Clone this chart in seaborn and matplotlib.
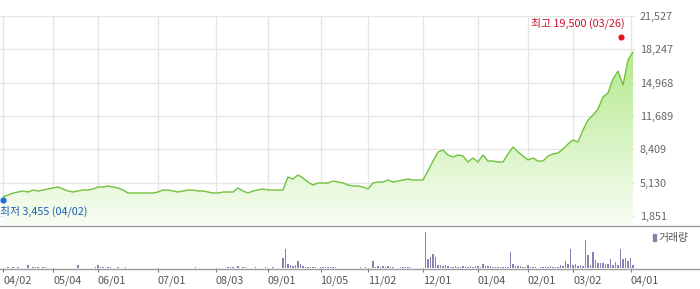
import numpy as np
import matplotlib
matplotlib.use("Agg")
import matplotlib.pyplot as plt
import seaborn as sns
import pandas as pd
from matplotlib.colors import LinearSegmentedColormap
from matplotlib.lines import Line2D
from matplotlib.patches import Rectangle

# ---- data (price sampled every 2 trading days, volume daily) ----
price = [3720, 3917, 4114, 4212, 4310, 4212, 4409, 4310, 4409, 4507,
         4606, 4704, 4507, 4310, 4212, 4310, 4409, 4409, 4507, 4704,
         4704, 4802, 4704, 4606, 4409, 4114, 4114, 4114, 4114, 4114,
         4114, 4212, 4409, 4409, 4310, 4212, 4310, 4409, 4409, 4310,
         4310, 4212, 4114, 4114, 4212, 4212, 4212, 4606, 4310, 4114,
         4310, 4409, 4507, 4409, 4409, 4409, 4409, 5688, 5491, 5885,
         5589, 5196, 4901, 5098, 5098, 5098, 5294, 5196, 5098, 4901,
         4802, 4802, 4704, 4507, 5098, 5196, 5196, 5393, 5196, 5294,
         5393, 5491, 5393, 5393, 5393, 6278, 7262, 8147, 8344, 7852,
         7655, 7852, 7754, 7164, 7557, 7164, 7852, 7262, 7262, 7164,
         7164, 7951, 8639, 8147, 7754, 7360, 7557, 7262, 7262, 7754,
         7951, 8049, 8442, 8934, 9328, 9131, 10312, 11295, 11787, 12378,
         13558, 13952, 15329, 16116, 14739, 17198, 17986]

volume = [0, 0, 1, 0, 1, 0, 1, 0, 0, 0,
          3, 0, 1, 1, 1, 0, 1, 1, 0, 0,
          0, 0, 0, 0, 0, 0, 0, 0, 0, 0,
          3, 0, 0, 0, 0, 0, 0, 1, 3, 1,
          1, 0, 1, 1, 0, 0, 1, 0, 0, 1,
          0, 0, 0, 0, 0, 0, 0, 0, 0, 0,
          0, 0, 0, 0, 0, 0, 0, 0, 0, 0,
          0, 0, 0, 0, 0, 0, 0, 1, 0, 0,
          0, 0, 0, 0, 0, 0, 0, 0, 0, 0,
          1, 1, 1, 0, 2, 0, 1, 1, 0, 0,
          0, 1, 0, 0, 0, 1, 0, 0, 1, 0,
          0, 0, 10, 19, 4, 3, 2, 3, 7, 4,
          2, 1, 1, 1, 1, 1, 0, 1, 1, 1,
          1, 1, 1, 1, 0, 0, 0, 0, 0, 0,
          0, 0, 0, 1, 0, 1, 0, 0, 7, 1,
          2, 1, 2, 1, 2, 1, 1, 0, 0, 1,
          1, 1, 1, 1, 0, 0, 0, 0, 0, 36,
          9, 11, 14, 11, 3, 3, 2, 3, 2, 1,
          1, 2, 1, 1, 2, 1, 1, 2, 1, 2,
          2, 1, 4, 2, 2, 2, 1, 1, 1, 1,
          1, 1, 1, 16, 4, 2, 2, 2, 1, 1,
          3, 1, 1, 1, 0, 1, 1, 1, 1, 2,
          1, 1, 1, 3, 2, 7, 4, 19, 3, 4,
          2, 3, 2, 28, 13, 3, 16, 8, 5, 5,
          5, 4, 4, 9, 3, 6, 3, 19, 9, 10,
          7, 10, 3]

tick_labels = ["04/02", "05/04", "06/01", "07/01", "08/03", "09/01", "10/05",
               "11/02", "12/01", "01/04", "02/01", "03/02", "04/01"]
tick_days = [0, 20, 38, 62, 85, 106, 127, 146, 168, 190, 210, 228, 251]
y_ticks = [1851, 5130, 8409, 11689, 14968, 18247, 21527]

high_value, high_date, high_day = 19500, "03/26", 247
low_value, low_date, low_day = 3455, "04/02", 0

# ---- style ----
sns.set_theme(style="white")
plt.rcParams['font.family'] = ['Noto Sans CJK KR', 'DejaVu Sans']

W, H = 700, 289
FS = 7.8
fig = plt.figure(figsize=(W / 100, H / 100), dpi=100)
fig.patch.set_facecolor("white")

def fx(px):
    return px / W

def fy(py):
    return 1 - py / H

ax = fig.add_axes([0, fy(225), fx(635), (225 - 15.5) / H])
axv = fig.add_axes([0, fy(268), fx(635), (268 - 226) / H])

XMIN, XMAX = -1.2, 252.8
YMIN, YMAX = 966, 21576

days = np.arange(len(price)) * 2
df = pd.DataFrame({"day": days, "price": price})

line_color = "#72c23c"
sns.lineplot(data=df, x="day", y="price", ax=ax, color=line_color,
             linewidth=1.0, zorder=4)

# gradient fill under the line
poly = ax.fill_between(days, price, YMIN, color="none", linewidth=0)
cmap = LinearSegmentedColormap.from_list("g", ["#f8fdf4", "#a6e577"])
grad = np.linspace(0, 1, 256).reshape(-1, 1)
im = ax.imshow(grad, extent=[XMIN, XMAX, YMIN, YMAX], aspect="auto",
               cmap=cmap, origin="lower", zorder=2)
im.set_clip_path(poly.get_paths()[0], transform=ax.transData)

ax.set_xlim(XMIN, XMAX)
ax.set_ylim(YMIN, YMAX)
ax.set_xticks(tick_days)
ax.set_xticklabels([])
ax.set_yticks(y_ticks)
ax.yaxis.tick_right()
ax.set_yticklabels([f"{v:,}" for v in y_ticks])
ax.tick_params(axis="both", length=0)
ax.tick_params(axis="y", pad=3.6, labelsize=FS, labelcolor="#666666")
ax.grid(True, color="#e6e6e6", linewidth=1.0, zorder=0)
ax.set_axisbelow(True)
for s in ax.spines.values():
    s.set_visible(False)
ax.set_xlabel("")
ax.set_ylabel("")

# high / low markers
ax.scatter([high_day], [high_value], s=20, color="#e8141c", zorder=6,
           clip_on=False, linewidths=0)
ax.annotate(f"최고 {high_value:,} ({high_date})", xy=(high_day, high_value),
            xytext=(4, 13), textcoords="offset pixels", ha="right",
            va="center", color="#c8102e", fontsize=FS, annotation_clip=False)
ax.scatter([low_day], [low_value], s=20, color="#1a6fdc", zorder=6,
           clip_on=False, linewidths=0)
ax.annotate(f"최저 {low_value:,} ({low_date})", xy=(low_day, low_value),
            xytext=(-3, -12), textcoords="offset pixels", ha="left",
            va="center", color="#1c5fae", fontsize=FS, annotation_clip=False)

# volume panel
vol_color = "#8c80b3"
axv.bar(np.arange(len(volume)), volume, width=0.45, color=vol_color,
        linewidth=0)
axv.set_xlim(XMIN, XMAX)
axv.set_ylim(0, 42)
axv.set_yticks([])
axv.set_xticks(tick_days)
axv.set_xticklabels(tick_labels, ha="left")
axv.tick_params(axis="x", direction="out", length=3.2, width=0.8,
                color="#777777", pad=2.5, labelsize=FS, labelcolor="#555555",
                bottom=True)
for s in axv.spines.values():
    s.set_visible(False)
axv.set_facecolor("none")

# separator lines spanning full width
fig.add_artist(Line2D([0, 1], [fy(225.5)] * 2, transform=fig.transFigure,
                      color="#9a9a9a", linewidth=1.0))
fig.add_artist(Line2D([0, 1], [fy(268.5)] * 2, transform=fig.transFigure,
                      color="#9a9a9a", linewidth=1.0))

# volume legend
fig.add_artist(Rectangle((fx(652.5), fy(241)), 3 / W, 7 / H,
                         transform=fig.transFigure, color=vol_color))
fig.text(fx(658), fy(237.5), "거래량", fontsize=FS, color="#555555",
         va="center", ha="left")

fig.savefig("out.png", dpi=100)
